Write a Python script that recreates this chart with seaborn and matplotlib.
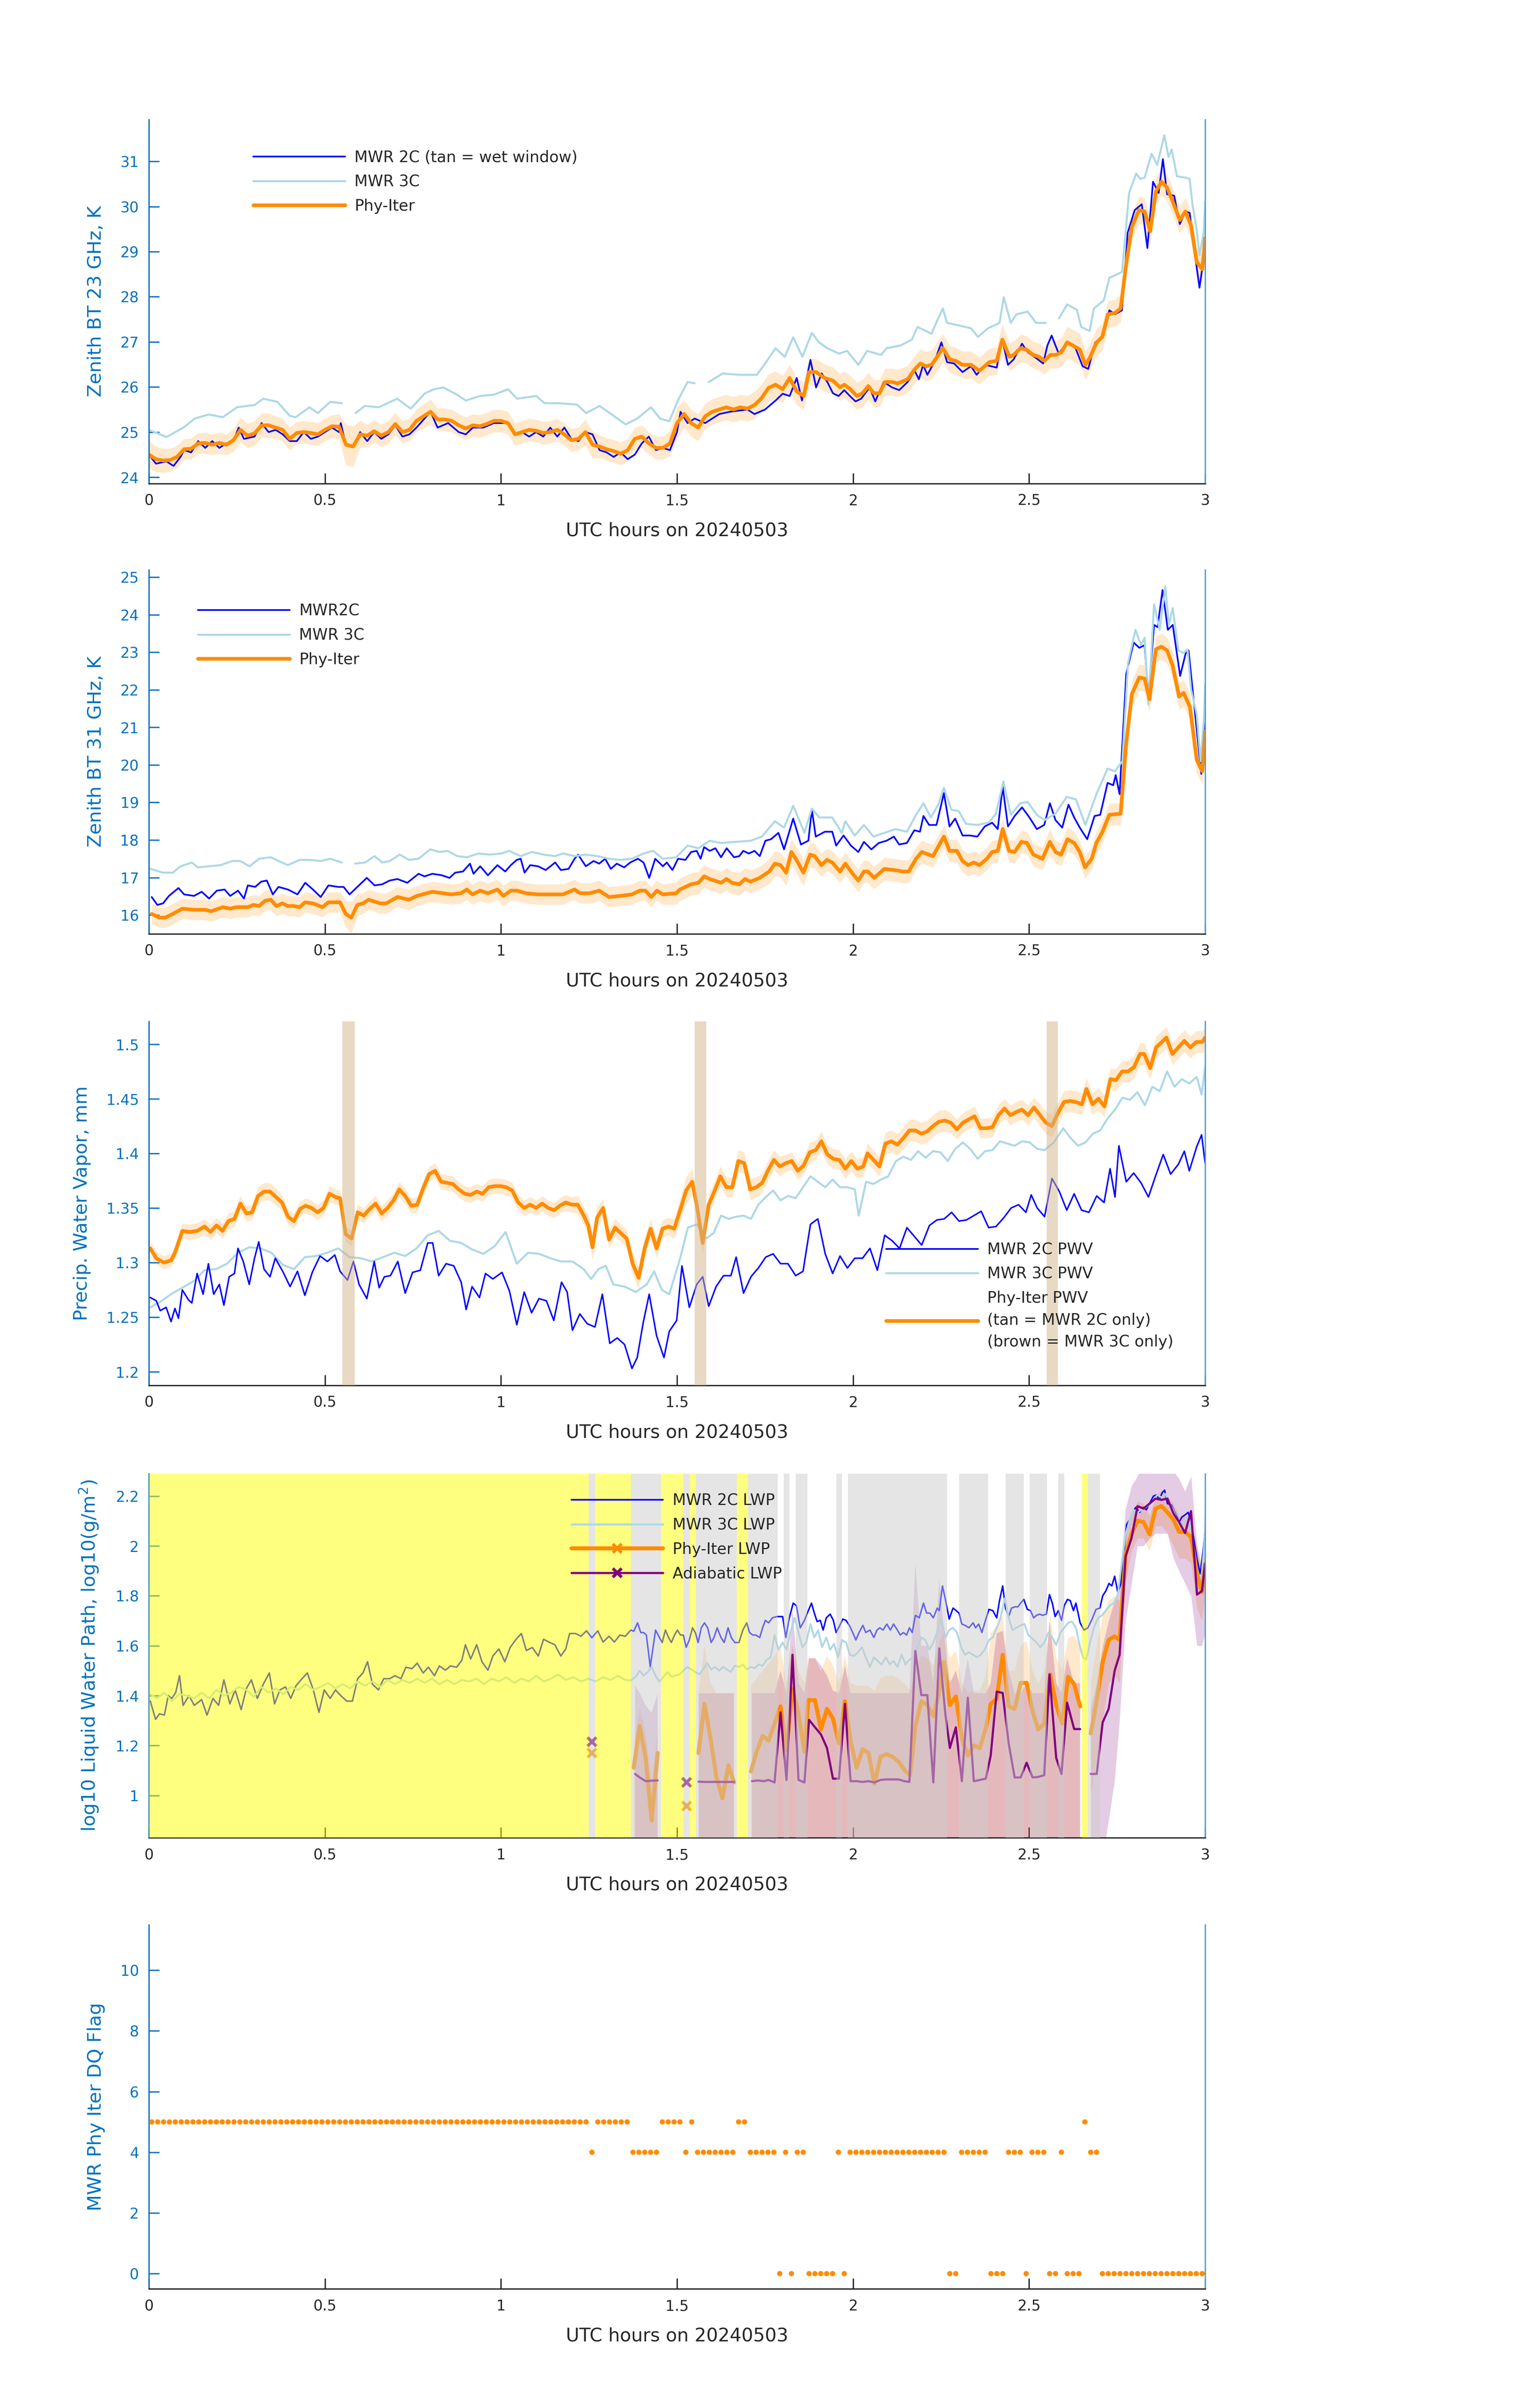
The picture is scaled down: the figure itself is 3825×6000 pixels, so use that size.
import numpy as np
import matplotlib
matplotlib.use("Agg")
import matplotlib.pyplot as plt
from matplotlib.lines import Line2D
from matplotlib.ticker import FuncFormatter
import seaborn as sns

nan = np.nan

C2 = "#0000FF"
C3 = "#ADD8E6"
CPHY = "#FF8C00"
CADI = "#800080"
AXBLUE = "#0072BD"
AXDARK = "#262626"

# ---------------- panel 1 : BT 23 GHz ----------------
bt23_2c = [
    (0, 24.5), (0.02, 24.3), (0.05, 24.35), (0.07, 24.25), (0.09, 24.45), (0.10, 24.6), (0.12, 24.55), (0.14, 24.8),
    (0.16, 24.65), (0.18, 24.8), (0.20, 24.65), (0.22, 24.75), (0.24, 24.8), (0.255, 25.1), (0.27, 24.85), (0.30, 24.9),
    (0.32, 25.2), (0.34, 25.0), (0.36, 25.05), (0.38, 24.95), (0.40, 24.8), (0.42, 24.8), (0.44, 25.0), (0.46, 24.85),
    (0.48, 24.9), (0.50, 25.0), (0.52, 25.1), (0.54, 25.0), (0.545, 25.2), (0.56, 24.7), (0.58, 24.7), (0.60, 25.0),
    (0.62, 24.8), (0.64, 25.0), (0.66, 24.85), (0.68, 24.95), (0.70, 25.15), (0.72, 24.9), (0.74, 24.95), (0.76, 25.1),
    (0.80, 25.45), (0.82, 25.1), (0.85, 25.2), (0.88, 25.0), (0.90, 24.95), (0.92, 25.1), (0.95, 25.1), (0.98, 25.2),
    (1.00, 25.2), (1.02, 25.2), (1.04, 24.95), (1.06, 25.0), (1.08, 24.9), (1.10, 25.0), (1.12, 24.9), (1.14, 25.1),
    (1.16, 24.9), (1.18, 25.1), (1.20, 24.85), (1.22, 24.8), (1.24, 25.0), (1.26, 24.95), (1.28, 24.6), (1.30, 24.55),
    (1.32, 24.45), (1.34, 24.55), (1.36, 24.4), (1.38, 24.5), (1.40, 24.75), (1.42, 24.9), (1.44, 24.6), (1.46, 24.65),
    (1.48, 24.6), (1.50, 25.0), (1.51, 25.45), (1.53, 25.2), (1.55, 25.3), (1.58, 25.2), (1.60, 25.3), (1.62, 25.4),
    (1.65, 25.45), (1.70, 25.5), (1.72, 25.4), (1.75, 25.5), (1.78, 25.7), (1.80, 25.85), (1.82, 25.8), (1.84, 26.2),
    (1.855, 25.7), (1.879, 26.6), (1.895, 25.99), (1.911, 26.3), (1.927, 26.11), (1.943, 25.86), (1.959, 25.8),
    (1.975, 25.93), (1.991, 25.8), (2.007, 25.68), (2.023, 25.74), (2.047, 25.99), (2.063, 25.68), (2.087, 26.11),
    (2.111, 25.99), (2.131, 25.93), (2.155, 26.11), (2.175, 26.36), (2.187, 26.17), (2.199, 26.49), (2.211, 26.27),
    (2.231, 26.55), (2.251, 26.99), (2.267, 26.55), (2.287, 26.52), (2.311, 26.33), (2.335, 26.46), (2.351, 26.27),
    (2.375, 26.49), (2.408, 26.43), (2.424, 27.05), (2.44, 26.49), (2.456, 26.61), (2.48, 26.96), (2.496, 26.77),
    (2.52, 26.64), (2.54, 26.52), (2.552, 26.92), (2.564, 27.14), (2.584, 26.74), (2.608, 26.99), (2.632, 26.86),
    (2.652, 26.46), (2.668, 26.4), (2.688, 26.99), (2.708, 27.11), (2.728, 27.7), (2.744, 27.61), (2.764, 27.7),
    (2.78, 29.42), (2.80, 29.92), (2.82, 30.05), (2.836, 29.08), (2.852, 30.55), (2.868, 30.3), (2.88, 31.05),
    (2.892, 30.27), (2.912, 30.24), (2.928, 29.61), (2.944, 29.89), (2.956, 29.86), (2.968, 29.11), (2.984, 28.2),
    (2.996, 28.86), (3.0, 29.3),
]
bt23_3c = [
    (0, 25.05), (0.05, 24.89), (0.10, 25.11), (0.13, 25.3), (0.17, 25.39), (0.21, 25.33), (0.25, 25.55), (0.30, 25.6),
    (0.325, 25.74), (0.365, 25.67), (0.40, 25.36), (0.417, 25.33), (0.456, 25.55), (0.48, 25.42), (0.515, 25.67),
    (0.548, 25.64), (0.565, nan), (0.587, 25.42), (0.613, 25.58), (0.653, 25.55), (0.705, 25.74), (0.744, 25.52),
    (0.784, 25.86), (0.81, 25.95), (0.836, 25.99), (0.875, 25.83), (0.90, 25.7), (0.94, 25.8), (0.98, 25.83),
    (1.02, 25.95), (1.046, 25.74), (1.10, 25.8), (1.124, 25.64), (1.164, 25.64), (1.216, 25.61), (1.242, 25.42),
    (1.28, 25.58), (1.32, 25.36), (1.354, 25.17), (1.387, 25.3), (1.426, 25.55), (1.452, 25.3), (1.478, 25.24),
    (1.505, 25.74), (1.53, 26.11), (1.55, 26.08), (1.57, nan), (1.59, 26.11), (1.63, 26.3), (1.675, 26.27),
    (1.727, 26.27), (1.753, 26.55), (1.78, 26.86), (1.806, 26.67), (1.83, 27.1), (1.856, 26.67), (1.883, 27.2),
    (1.903, 26.99), (1.927, 26.86), (1.96, 26.74), (1.983, 26.8), (2.015, 26.49), (2.04, 26.8), (2.08, 26.71),
    (2.095, 26.86), (2.135, 26.92), (2.167, 27.05), (2.183, 27.33), (2.207, 27.24), (2.223, 27.18), (2.24, 27.49),
    (2.255, 27.74), (2.267, 27.42), (2.303, 27.36), (2.335, 27.3), (2.355, 27.11), (2.383, 27.3), (2.416, 27.42),
    (2.428, 27.99), (2.448, 27.42), (2.464, 27.61), (2.496, 27.67), (2.52, 27.42), (2.548, 27.42), (2.565, nan),
    (2.585, 27.52), (2.608, 27.83), (2.636, 27.71), (2.648, 27.33), (2.672, 27.24), (2.684, 27.74), (2.712, 27.92),
    (2.728, 28.42), (2.748, 28.49), (2.764, 28.55), (2.784, 30.3), (2.804, 30.73), (2.816, 30.61), (2.828, 30.64),
    (2.848, 31.17), (2.864, 30.92), (2.884, 31.58), (2.896, 31.1), (2.905, 31.26), (2.92, 30.67), (2.944, 30.64),
    (2.956, 30.61), (2.964, 30.05), (2.976, 29.49), (2.984, 28.92), (2.996, 29.42), (3.0, 30.1),
]
# (time, value, half-width of uncertainty band)
bt23_phy = [
    (0, 24.5, 0.3), (0.02, 24.4, 0.28), (0.04, 24.37, 0.27), (0.06, 24.38, 0.25), (0.08, 24.45, 0.25),
    (0.1, 24.62, 0.23), (0.12, 24.63, 0.23), (0.14, 24.75, 0.23), (0.16, 24.76, 0.23), (0.18, 24.72, 0.23),
    (0.2, 24.76, 0.23), (0.22, 24.72, 0.23), (0.24, 24.82, 0.25), (0.26, 25.05, 0.27), (0.28, 24.92, 0.27),
    (0.3, 24.97, 0.27), (0.32, 25.15, 0.27), (0.34, 25.15, 0.27), (0.36, 25.1, 0.25), (0.38, 25.05, 0.25),
    (0.4, 24.85, 0.25), (0.42, 24.98, 0.25), (0.44, 25.0, 0.25), (0.46, 24.98, 0.25), (0.48, 24.95, 0.25),
    (0.5, 25.05, 0.25), (0.52, 25.13, 0.25), (0.54, 25.12, 0.28), (0.56, 24.72, 0.45), (0.58, 24.68, 0.45),
    (0.6, 24.95, 0.3), (0.62, 24.92, 0.25), (0.64, 25.02, 0.25), (0.66, 24.92, 0.25), (0.68, 25.0, 0.25),
    (0.7, 25.18, 0.25), (0.72, 25.0, 0.25), (0.74, 25.05, 0.25), (0.76, 25.25, 0.25), (0.78, 25.35, 0.27),
    (0.8, 25.45, 0.27), (0.82, 25.28, 0.25), (0.84, 25.28, 0.25), (0.86, 25.25, 0.25), (0.88, 25.15, 0.25),
    (0.9, 25.08, 0.25), (0.92, 25.15, 0.25), (0.94, 25.13, 0.25), (0.96, 25.18, 0.25), (0.98, 25.25, 0.25),
    (1.0, 25.25, 0.25), (1.02, 25.2, 0.25), (1.04, 24.95, 0.25), (1.06, 25.0, 0.25), (1.08, 25.05, 0.25),
    (1.1, 25.03, 0.25), (1.12, 24.98, 0.25), (1.14, 25.0, 0.25), (1.16, 25.05, 0.25), (1.18, 24.95, 0.25),
    (1.2, 24.82, 0.25), (1.22, 24.85, 0.25), (1.24, 25.0, 0.28), (1.26, 24.72, 0.3), (1.28, 24.68, 0.25),
    (1.3, 24.62, 0.25), (1.32, 24.58, 0.25), (1.34, 24.52, 0.25), (1.36, 24.6, 0.25), (1.38, 24.85, 0.25),
    (1.4, 24.9, 0.25), (1.42, 24.75, 0.25), (1.44, 24.65, 0.25), (1.46, 24.65, 0.25), (1.48, 24.75, 0.28),
    (1.5, 25.2, 0.35), (1.52, 25.4, 0.3), (1.54, 25.2, 0.3), (1.56, 25.1, 0.3), (1.58, 25.35, 0.28),
    (1.6, 25.45, 0.28), (1.62, 25.5, 0.28), (1.64, 25.55, 0.28), (1.66, 25.5, 0.28), (1.68, 25.55, 0.28),
    (1.7, 25.52, 0.28), (1.72, 25.6, 0.3), (1.74, 25.75, 0.3), (1.76, 25.98, 0.3), (1.78, 26.05, 0.3),
    (1.8, 25.95, 0.3), (1.82, 26.2, 0.3), (1.84, 25.9, 0.3), (1.86, 25.8, 0.3),
    (1.875, 26.33, 0.3), (1.895, 26.33, 0.3), (1.919, 26.2, 0.3), (1.943, 26.14, 0.3), (1.963, 25.99, 0.3),
    (1.975, 26.05, 0.3), (1.991, 25.96, 0.3), (2.011, 25.8, 0.3), (2.027, 25.86, 0.3), (2.043, 26.02, 0.3),
    (2.059, 25.86, 0.3), (2.075, 25.86, 0.3), (2.091, 26.11, 0.3), (2.111, 26.11, 0.3), (2.127, 26.08, 0.3),
    (2.155, 26.17, 0.3), (2.175, 26.39, 0.3), (2.191, 26.52, 0.32), (2.207, 26.46, 0.32), (2.223, 26.49, 0.32),
    (2.239, 26.67, 0.32), (2.255, 26.86, 0.32), (2.275, 26.61, 0.3), (2.291, 26.58, 0.3), (2.311, 26.49, 0.3),
    (2.335, 26.49, 0.3), (2.359, 26.36, 0.3), (2.387, 26.55, 0.3), (2.408, 26.58, 0.3), (2.424, 27.05, 0.35),
    (2.444, 26.67, 0.3), (2.456, 26.71, 0.3), (2.476, 26.86, 0.3), (2.492, 26.83, 0.3), (2.512, 26.71, 0.3),
    (2.528, 26.67, 0.3), (2.544, 26.58, 0.3), (2.56, 26.71, 0.3), (2.576, 26.71, 0.3), (2.592, 26.77, 0.32),
    (2.608, 26.99, 0.35), (2.624, 26.92, 0.35), (2.644, 26.83, 0.35), (2.66, 26.49, 0.32), (2.672, 26.64, 0.3),
    (2.692, 26.99, 0.3), (2.708, 27.11, 0.3), (2.724, 27.61, 0.3), (2.744, 27.64, 0.3), (2.76, 27.74, 0.3),
    (2.776, 28.74, 0.3), (2.792, 29.55, 0.3), (2.812, 29.92, 0.3), (2.828, 29.89, 0.3), (2.844, 29.45, 0.3),
    (2.86, 30.33, 0.3), (2.876, 30.55, 0.3), (2.892, 30.42, 0.3), (2.908, 30.11, 0.3), (2.928, 29.7, 0.3),
    (2.944, 29.89, 0.3), (2.96, 29.58, 0.3), (2.976, 28.77, 0.3), (2.992, 28.61, 0.3), (3.0, 29.3, 0.3),
]

# ---------------- panel 2 : BT 31 GHz ----------------
bt31_2c = [
    (0.008, 16.48), (0.024, 16.27), (0.04, 16.31), (0.057, 16.51), (0.084, 16.72), (0.1, 16.55), (0.128, 16.51),
    (0.15, 16.62), (0.171, 16.44), (0.193, 16.65), (0.215, 16.68), (0.231, 16.51), (0.253, 16.65), (0.27, 16.44),
    (0.281, 16.79), (0.302, 16.75), (0.319, 16.89), (0.335, 16.92), (0.352, 16.55), (0.368, 16.75), (0.395, 16.68),
    (0.422, 16.55), (0.444, 16.86), (0.466, 16.68), (0.488, 16.48), (0.51, 16.79), (0.537, 16.75), (0.553, 16.75),
    (0.57, 16.55), (0.592, 16.75), (0.619, 16.99), (0.641, 16.79), (0.663, 16.82), (0.684, 16.92), (0.706, 16.96),
    (0.734, 16.86), (0.766, 17.1), (0.783, 17.03), (0.805, 17.1), (0.832, 17.06), (0.854, 16.99), (0.87, 17.13),
    (0.892, 17.16), (0.912, 17.37), (0.922, 17.1), (0.941, 17.3), (0.963, 17.06), (0.99, 17.33), (1.012, 17.16),
    (1.028, 17.33), (1.045, 17.47), (1.056, 17.5), (1.067, 17.13), (1.083, 17.33), (1.105, 17.3), (1.127, 17.2),
    (1.154, 17.4), (1.17, 17.2), (1.192, 17.23), (1.209, 17.5), (1.219, 17.61), (1.241, 17.3), (1.263, 17.44),
    (1.279, 17.37), (1.296, 17.5), (1.312, 17.23), (1.329, 17.37), (1.35, 17.27), (1.367, 17.4), (1.389, 17.5),
    (1.405, 17.4), (1.421, 16.99), (1.438, 17.5), (1.46, 17.3), (1.471, 17.4), (1.487, 17.2), (1.503, 17.5),
    (1.524, 17.47), (1.54, 17.68), (1.556, 17.71), (1.567, 17.5), (1.577, 17.81), (1.593, 17.71), (1.609, 17.78),
    (1.625, 17.54), (1.641, 17.78), (1.662, 17.54), (1.677, 17.57), (1.688, 17.71), (1.704, 17.64), (1.72, 17.71),
    (1.735, 17.57), (1.751, 17.98), (1.767, 18.02), (1.788, 18.19), (1.804, 17.75), (1.83, 18.57), (1.852, 17.88),
    (1.873, 17.98), (1.883, 18.81), (1.894, 18.09), (1.92, 18.22), (1.941, 18.22), (1.952, 17.85), (1.973, 18.12),
    (1.994, 17.85), (2.015, 17.68), (2.031, 17.95), (2.052, 17.75), (2.073, 17.92), (2.095, 17.98), (2.116, 18.09),
    (2.131, 17.88), (2.153, 17.92), (2.174, 18.26), (2.19, 18.22), (2.2, 18.64), (2.216, 18.4), (2.237, 18.4),
    (2.258, 19.25), (2.274, 18.36), (2.29, 18.57), (2.311, 18.12), (2.332, 18.12), (2.353, 18.09), (2.374, 18.36),
    (2.395, 18.46), (2.411, 18.29), (2.425, 19.42), (2.44, 18.36), (2.459, 18.64), (2.48, 18.87), (2.501, 18.6),
    (2.522, 18.29), (2.543, 18.4), (2.559, 18.98), (2.575, 18.53), (2.594, 18.33), (2.612, 18.94), (2.628, 18.6),
    (2.644, 18.33), (2.665, 18.02), (2.686, 18.64), (2.702, 18.67), (2.723, 19.52), (2.739, 19.46), (2.746, 19.73),
    (2.757, 19.22), (2.776, 22.43), (2.797, 23.26), (2.813, 23.12), (2.828, 23.19), (2.839, 21.82), (2.855, 23.73),
    (2.865, 23.67), (2.879, 24.66), (2.894, 23.6), (2.908, 23.73), (2.929, 22.37), (2.945, 22.98), (2.953, 23.05),
    (2.971, 21.41), (2.989, 19.76), (2.999, 21.0), (3.0, 21.4),
]
bt31_3c = [
    (0.004, 17.23), (0.04, 17.13), (0.068, 17.13), (0.09, 17.3), (0.122, 17.4), (0.139, 17.27), (0.171, 17.3),
    (0.204, 17.33), (0.237, 17.44), (0.259, 17.44), (0.286, 17.3), (0.313, 17.5), (0.346, 17.54), (0.368, 17.44),
    (0.395, 17.33), (0.428, 17.47), (0.455, 17.47), (0.488, 17.44), (0.515, 17.5), (0.548, 17.4), (0.565, nan),
    (0.586, 17.37), (0.614, 17.4), (0.641, 17.57), (0.663, 17.4), (0.684, 17.44), (0.712, 17.61), (0.739, 17.47),
    (0.766, 17.5), (0.799, 17.75), (0.826, 17.68), (0.848, 17.71), (0.876, 17.57), (0.903, 17.54), (0.936, 17.64),
    (0.968, 17.61), (1.001, 17.64), (1.023, 17.71), (1.056, 17.57), (1.088, 17.68), (1.121, 17.61), (1.154, 17.57),
    (1.176, 17.64), (1.209, 17.57), (1.241, 17.61), (1.274, 17.57), (1.307, 17.5), (1.34, 17.47), (1.372, 17.5),
    (1.405, 17.64), (1.432, 17.71), (1.46, 17.5), (1.498, 17.54), (1.53, 17.85), (1.561, 17.78), (1.593, 17.98),
    (1.625, 17.92), (1.667, 17.95), (1.709, 17.98), (1.741, 18.09), (1.778, 18.5), (1.804, 18.33), (1.83, 18.91),
    (1.862, 18.19), (1.883, 18.84), (1.904, 18.6), (1.941, 18.6), (1.968, 18.19), (1.978, 18.5), (2.005, 18.12),
    (2.031, 18.4), (2.058, 18.09), (2.089, 18.19), (2.121, 18.29), (2.153, 18.22), (2.179, 18.67), (2.2, 18.98),
    (2.221, 18.6), (2.242, 18.94), (2.258, 19.39), (2.279, 18.81), (2.3, 18.77), (2.321, 18.43), (2.353, 18.4),
    (2.385, 18.46), (2.406, 18.7), (2.427, 19.56), (2.448, 18.67), (2.475, 18.98), (2.496, 19.01), (2.522, 18.67),
    (2.544, 18.53), (2.575, 18.7), (2.607, 19.15), (2.633, 19.08), (2.66, 18.4), (2.691, 19.22), (2.723, 19.9),
    (2.744, 19.83), (2.765, 20.1), (2.781, 22.71), (2.802, 23.6), (2.818, 23.19), (2.828, 23.39), (2.839, 21.61),
    (2.855, 24.28), (2.871, 23.6), (2.887, 24.76), (2.897, 23.73), (2.908, 24.18), (2.924, 23.05), (2.939, 22.98),
    (2.95, 23.08), (2.96, 22.02), (2.976, 21.34), (2.987, 20.1), (2.997, 21.27), (3.0, 22.16),
]
bt31_phy = [
    (0.008, 16.03, 0.27), (0.03, 15.93, 0.27), (0.046, 15.93, 0.27), (0.068, 16.03, 0.27), (0.095, 16.17, 0.27),
    (0.128, 16.14, 0.27), (0.16, 16.14, 0.27), (0.177, 16.1, 0.27), (0.21, 16.21, 0.27), (0.231, 16.17, 0.27),
    (0.248, 16.21, 0.27), (0.281, 16.21, 0.27), (0.297, 16.27, 0.27), (0.313, 16.24, 0.27), (0.33, 16.38, 0.27),
    (0.346, 16.41, 0.27), (0.362, 16.24, 0.27), (0.379, 16.31, 0.27), (0.395, 16.24, 0.27), (0.412, 16.24, 0.27),
    (0.428, 16.21, 0.27), (0.444, 16.34, 0.27), (0.466, 16.31, 0.27), (0.493, 16.21, 0.27), (0.51, 16.34, 0.27),
    (0.543, 16.34, 0.27), (0.559, 16.03, 0.35), (0.575, 15.93, 0.42), (0.592, 16.27, 0.3), (0.608, 16.31, 0.27),
    (0.624, 16.41, 0.27), (0.657, 16.31, 0.27), (0.674, 16.31, 0.27), (0.706, 16.48, 0.27), (0.739, 16.41, 0.27),
    (0.761, 16.51, 0.27), (0.805, 16.62, 0.27), (0.837, 16.58, 0.27), (0.859, 16.55, 0.27), (0.886, 16.58, 0.27),
    (0.903, 16.68, 0.27), (0.919, 16.55, 0.27), (0.941, 16.65, 0.27), (0.963, 16.58, 0.27), (0.99, 16.68, 0.27),
    (1.007, 16.51, 0.27), (1.028, 16.65, 0.27), (1.045, 16.65, 0.27), (1.072, 16.58, 0.27), (1.105, 16.55, 0.27),
    (1.143, 16.55, 0.27), (1.176, 16.55, 0.27), (1.209, 16.68, 0.27), (1.225, 16.58, 0.27), (1.252, 16.58, 0.27),
    (1.279, 16.65, 0.27), (1.307, 16.48, 0.27), (1.34, 16.51, 0.27), (1.372, 16.55, 0.27), (1.394, 16.65, 0.27),
    (1.41, 16.65, 0.27), (1.427, 16.48, 0.27), (1.443, 16.65, 0.27), (1.46, 16.55, 0.27), (1.498, 16.58, 0.3),
    (1.508, 16.68, 0.3), (1.54, 16.82, 0.3), (1.561, 16.86, 0.3), (1.577, 17.03, 0.3), (1.593, 16.96, 0.3),
    (1.625, 16.86, 0.3), (1.641, 16.96, 0.3), (1.656, 16.86, 0.3), (1.677, 16.82, 0.3), (1.693, 16.96, 0.3),
    (1.709, 16.89, 0.3), (1.735, 16.99, 0.3), (1.762, 17.16, 0.33), (1.778, 17.37, 0.33), (1.794, 17.33, 0.33),
    (1.81, 17.13, 0.35), (1.825, 17.68, 0.35), (1.841, 17.44, 0.35), (1.859, 17.13, 0.35), (1.878, 17.61, 0.33),
    (1.891, 17.57, 0.33), (1.91, 17.33, 0.3), (1.926, 17.47, 0.3), (1.941, 17.4, 0.3), (1.963, 17.16, 0.3),
    (1.978, 17.37, 0.3), (1.999, 17.1, 0.3), (2.015, 16.92, 0.3), (2.031, 17.16, 0.3), (2.042, 17.16, 0.3),
    (2.06, 16.99, 0.3), (2.089, 17.23, 0.3), (2.116, 17.2, 0.3), (2.142, 17.16, 0.3), (2.158, 17.16, 0.3),
    (2.179, 17.5, 0.3), (2.195, 17.68, 0.3), (2.227, 17.57, 0.3), (2.258, 18.09, 0.3), (2.274, 17.71, 0.3),
    (2.295, 17.71, 0.3), (2.311, 17.44, 0.3), (2.327, 17.33, 0.3), (2.343, 17.4, 0.3), (2.359, 17.33, 0.3),
    (2.38, 17.5, 0.3), (2.395, 17.68, 0.3), (2.411, 17.71, 0.3), (2.425, 18.29, 0.3), (2.443, 17.71, 0.3),
    (2.459, 17.68, 0.3), (2.478, 17.95, 0.3), (2.494, 17.92, 0.3), (2.512, 17.61, 0.3), (2.538, 17.5, 0.3),
    (2.559, 17.95, 0.33), (2.575, 17.68, 0.3), (2.591, 17.61, 0.3), (2.609, 18.02, 0.33), (2.628, 17.92, 0.3),
    (2.644, 17.68, 0.3), (2.659, 17.27, 0.3), (2.678, 17.5, 0.3), (2.691, 17.92, 0.3), (2.707, 18.19, 0.3),
    (2.728, 18.67, 0.3), (2.76, 18.7, 0.3), (2.776, 20.59, 0.35), (2.792, 21.89, 0.35), (2.813, 22.33, 0.35),
    (2.828, 22.3, 0.35), (2.842, 21.75, 0.35), (2.86, 23.08, 0.35), (2.876, 23.15, 0.35), (2.892, 23.05, 0.35),
    (2.908, 22.64, 0.35), (2.926, 21.82, 0.35), (2.939, 21.92, 0.35), (2.957, 21.54, 0.35), (2.976, 20.14, 0.35),
    (2.992, 19.83, 0.35), (3.0, 20.9, 0.35),
]

# ---------------- panel 3 : PWV ----------------
pwv_2c = [
    (0.004, 1.268), (0.021, 1.265), (0.032, 1.256), (0.049, 1.259), (0.063, 1.246), (0.074, 1.258), (0.084, 1.249),
    (0.095, 1.275), (0.112, 1.266), (0.122, 1.263), (0.137, 1.29), (0.154, 1.271), (0.169, 1.299), (0.184, 1.271),
    (0.2, 1.28), (0.213, 1.261), (0.228, 1.287), (0.243, 1.29), (0.253, 1.313), (0.268, 1.301), (0.285, 1.28),
    (0.3, 1.304), (0.312, 1.319), (0.327, 1.294), (0.344, 1.287), (0.359, 1.304), (0.38, 1.292), (0.401, 1.278),
    (0.422, 1.292), (0.443, 1.27), (0.464, 1.291), (0.486, 1.306), (0.507, 1.301), (0.528, 1.307), (0.543, 1.292),
    (0.564, 1.284), (0.581, 1.301), (0.597, 1.28), (0.619, 1.267), (0.64, 1.301), (0.654, 1.277), (0.669, 1.287),
    (0.686, 1.288), (0.707, 1.301), (0.728, 1.272), (0.749, 1.291), (0.771, 1.293), (0.792, 1.318), (0.806, 1.318),
    (0.823, 1.288), (0.844, 1.299), (0.866, 1.297), (0.887, 1.282), (0.901, 1.257), (0.918, 1.278), (0.939, 1.268),
    (0.956, 1.29), (0.977, 1.285), (1.003, 1.291), (1.024, 1.274), (1.045, 1.243), (1.066, 1.273), (1.087, 1.254),
    (1.108, 1.267), (1.129, 1.265), (1.15, 1.247), (1.172, 1.282), (1.188, 1.273), (1.203, 1.238), (1.224, 1.253),
    (1.245, 1.244), (1.267, 1.241), (1.288, 1.271), (1.309, 1.226), (1.33, 1.231), (1.351, 1.225), (1.372, 1.203),
    (1.387, 1.213), (1.404, 1.245), (1.421, 1.271), (1.442, 1.233), (1.463, 1.213), (1.478, 1.237), (1.499, 1.247),
    (1.514, 1.297), (1.535, 1.259), (1.556, 1.28), (1.573, 1.287), (1.59, 1.26), (1.611, 1.278), (1.632, 1.288),
    (1.653, 1.288), (1.668, 1.305), (1.689, 1.272), (1.71, 1.287), (1.731, 1.295), (1.752, 1.305), (1.773, 1.308),
    (1.794, 1.299), (1.815, 1.299), (1.837, 1.288), (1.858, 1.292), (1.879, 1.335), (1.9, 1.34), (1.921, 1.308),
    (1.942, 1.29), (1.963, 1.306), (1.984, 1.295), (2.005, 1.304), (2.027, 1.304), (2.048, 1.313), (2.069, 1.293),
    (2.09, 1.325), (2.111, 1.32), (2.132, 1.313), (2.153, 1.332), (2.174, 1.324), (2.195, 1.316), (2.217, 1.334),
    (2.238, 1.339), (2.259, 1.34), (2.28, 1.346), (2.301, 1.338), (2.322, 1.339), (2.343, 1.343), (2.364, 1.347),
    (2.385, 1.332), (2.406, 1.333), (2.428, 1.341), (2.449, 1.35), (2.47, 1.353), (2.491, 1.346), (2.506, 1.362),
    (2.523, 1.35), (2.544, 1.342), (2.565, 1.377), (2.586, 1.365), (2.607, 1.348), (2.628, 1.363), (2.649, 1.348),
    (2.67, 1.346), (2.692, 1.361), (2.713, 1.355), (2.73, 1.386), (2.744, 1.36), (2.755, 1.407), (2.776, 1.374),
    (2.797, 1.382), (2.818, 1.373), (2.839, 1.36), (2.86, 1.38), (2.881, 1.399), (2.902, 1.381), (2.924, 1.39),
    (2.941, 1.402), (2.955, 1.384), (2.976, 1.406), (2.99, 1.417), (3.0, 1.391),
]
pwv_3c = [
    (0.004, 1.259), (0.032, 1.264), (0.063, 1.271), (0.095, 1.277), (0.127, 1.283), (0.158, 1.293), (0.19, 1.294),
    (0.222, 1.299), (0.253, 1.309), (0.285, 1.314), (0.317, 1.313), (0.348, 1.309), (0.38, 1.298), (0.412, 1.294),
    (0.443, 1.305), (0.475, 1.306), (0.507, 1.309), (0.538, 1.313), (0.57, 1.305), (0.602, 1.304), (0.633, 1.301),
    (0.665, 1.305), (0.697, 1.309), (0.728, 1.306), (0.76, 1.313), (0.792, 1.325), (0.823, 1.329), (0.855, 1.32),
    (0.887, 1.318), (0.918, 1.312), (0.95, 1.308), (0.982, 1.315), (1.013, 1.328), (1.045, 1.299), (1.077, 1.309),
    (1.108, 1.308), (1.14, 1.304), (1.172, 1.301), (1.203, 1.301), (1.235, 1.294), (1.256, 1.285), (1.277, 1.294),
    (1.298, 1.297), (1.319, 1.28), (1.351, 1.278), (1.383, 1.273), (1.414, 1.28), (1.435, 1.292), (1.457, 1.275),
    (1.478, 1.271), (1.509, 1.304), (1.531, 1.332), (1.556, 1.335), (1.583, 1.322), (1.604, 1.327), (1.625, 1.343),
    (1.647, 1.34), (1.668, 1.342), (1.689, 1.343), (1.71, 1.34), (1.731, 1.353), (1.752, 1.36), (1.773, 1.366),
    (1.794, 1.357), (1.815, 1.361), (1.837, 1.359), (1.858, 1.369), (1.879, 1.379), (1.9, 1.374), (1.921, 1.369),
    (1.942, 1.376), (1.963, 1.369), (1.984, 1.369), (2.005, 1.367), (2.016, 1.343), (2.037, 1.374), (2.058, 1.372),
    (2.079, 1.376), (2.1, 1.379), (2.122, 1.393), (2.143, 1.397), (2.164, 1.394), (2.185, 1.402), (2.206, 1.396),
    (2.227, 1.402), (2.248, 1.401), (2.269, 1.393), (2.29, 1.404), (2.312, 1.41), (2.333, 1.404), (2.354, 1.395),
    (2.375, 1.402), (2.396, 1.403), (2.417, 1.411), (2.438, 1.409), (2.459, 1.407), (2.48, 1.411), (2.502, 1.41),
    (2.523, 1.404), (2.544, 1.403), (2.57, 1.41), (2.597, 1.423), (2.618, 1.414), (2.639, 1.407), (2.66, 1.41),
    (2.681, 1.418), (2.702, 1.421), (2.723, 1.432), (2.744, 1.44), (2.765, 1.451), (2.786, 1.449), (2.808, 1.456),
    (2.829, 1.444), (2.85, 1.461), (2.871, 1.457), (2.892, 1.475), (2.913, 1.461), (2.934, 1.468), (2.955, 1.464),
    (2.976, 1.47), (2.99, 1.454), (3.0, 1.479),
]
pwv_phy = [
    (0.004, 1.313, 0.006), (0.021, 1.304, 0.006), (0.042, 1.3, 0.006), (0.063, 1.302, 0.006), (0.074, 1.309, 0.006),
    (0.095, 1.329, 0.007), (0.116, 1.328, 0.007), (0.137, 1.329, 0.007), (0.158, 1.333, 0.007), (0.175, 1.328, 0.007),
    (0.192, 1.334, 0.007), (0.209, 1.329, 0.007), (0.226, 1.338, 0.007), (0.243, 1.34, 0.007), (0.26, 1.354, 0.007),
    (0.277, 1.345, 0.007), (0.293, 1.346, 0.007), (0.31, 1.361, 0.008), (0.327, 1.365, 0.008), (0.344, 1.365, 0.008),
    (0.361, 1.36, 0.008), (0.378, 1.355, 0.007), (0.395, 1.342, 0.007), (0.412, 1.338, 0.007), (0.429, 1.349, 0.007),
    (0.445, 1.352, 0.007), (0.462, 1.35, 0.007), (0.479, 1.346, 0.007), (0.496, 1.35, 0.007), (0.513, 1.363, 0.007),
    (0.53, 1.36, 0.007), (0.543, 1.359, 0.007), (0.559, 1.326, 0.007), (0.576, 1.322, 0.007), (0.593, 1.346, 0.007),
    (0.61, 1.343, 0.007), (0.627, 1.349, 0.007), (0.644, 1.354, 0.007), (0.661, 1.345, 0.007), (0.678, 1.35, 0.007),
    (0.695, 1.357, 0.007), (0.711, 1.367, 0.007), (0.728, 1.361, 0.007), (0.745, 1.352, 0.007), (0.762, 1.353, 0.007),
    (0.779, 1.368, 0.007), (0.796, 1.381, 0.007), (0.813, 1.384, 0.007), (0.83, 1.374, 0.007), (0.847, 1.373, 0.007),
    (0.863, 1.372, 0.007), (0.88, 1.367, 0.007), (0.897, 1.363, 0.007), (0.914, 1.362, 0.007), (0.931, 1.365, 0.007),
    (0.948, 1.363, 0.007), (0.965, 1.369, 0.007), (0.982, 1.37, 0.007), (0.999, 1.37, 0.007), (1.015, 1.369, 0.007),
    (1.032, 1.366, 0.007), (1.049, 1.355, 0.007), (1.066, 1.35, 0.007), (1.083, 1.353, 0.007), (1.1, 1.35, 0.007),
    (1.117, 1.354, 0.007), (1.134, 1.35, 0.007), (1.151, 1.348, 0.007), (1.167, 1.352, 0.007), (1.184, 1.355, 0.007),
    (1.201, 1.353, 0.007), (1.218, 1.353, 0.008), (1.235, 1.343, 0.008), (1.248, 1.334, 0.01), (1.26, 1.314, 0.012),
    (1.273, 1.341, 0.01), (1.29, 1.35, 0.008), (1.307, 1.321, 0.008), (1.324, 1.332, 0.008), (1.34, 1.327, 0.008),
    (1.357, 1.322, 0.008), (1.374, 1.299, 0.01), (1.391, 1.286, 0.01), (1.408, 1.313, 0.01), (1.425, 1.331, 0.009),
    (1.442, 1.313, 0.009), (1.459, 1.331, 0.008), (1.476, 1.333, 0.008), (1.492, 1.331, 0.009), (1.509, 1.348, 0.011),
    (1.526, 1.366, 0.012), (1.543, 1.374, 0.012), (1.556, 1.353, 0.011), (1.573, 1.318, 0.01), (1.59, 1.353, 0.009),
    (1.606, 1.365, 0.009), (1.623, 1.379, 0.009), (1.64, 1.369, 0.009), (1.657, 1.369, 0.009), (1.674, 1.393, 0.01),
    (1.691, 1.391, 0.01), (1.708, 1.367, 0.01), (1.725, 1.369, 0.009), (1.742, 1.373, 0.009), (1.758, 1.384, 0.009),
    (1.775, 1.394, 0.009), (1.792, 1.388, 0.009), (1.809, 1.391, 0.008), (1.826, 1.393, 0.008), (1.843, 1.384, 0.008),
    (1.86, 1.389, 0.008), (1.877, 1.401, 0.009), (1.894, 1.403, 0.009), (1.91, 1.411, 0.009), (1.927, 1.399, 0.009),
    (1.944, 1.395, 0.009), (1.961, 1.394, 0.009), (1.978, 1.386, 0.009), (1.995, 1.393, 0.009), (2.012, 1.386, 0.009),
    (2.029, 1.388, 0.009), (2.041, 1.4, 0.009), (2.058, 1.394, 0.009), (2.075, 1.388, 0.009), (2.092, 1.409, 0.01),
    (2.109, 1.411, 0.01), (2.126, 1.408, 0.01), (2.143, 1.414, 0.01), (2.16, 1.421, 0.01), (2.177, 1.421, 0.01),
    (2.194, 1.418, 0.01), (2.21, 1.42, 0.01), (2.227, 1.425, 0.01), (2.244, 1.429, 0.01), (2.261, 1.43, 0.01),
    (2.278, 1.428, 0.009), (2.295, 1.422, 0.009), (2.312, 1.428, 0.009), (2.328, 1.431, 0.009), (2.345, 1.434, 0.009),
    (2.362, 1.423, 0.009), (2.379, 1.423, 0.009), (2.396, 1.424, 0.009), (2.413, 1.435, 0.009), (2.43, 1.441, 0.009),
    (2.447, 1.435, 0.009), (2.464, 1.438, 0.009), (2.48, 1.44, 0.009), (2.497, 1.435, 0.009), (2.514, 1.442, 0.009),
    (2.531, 1.435, 0.01), (2.548, 1.428, 0.01), (2.565, 1.425, 0.01), (2.582, 1.437, 0.01), (2.599, 1.447, 0.01),
    (2.616, 1.448, 0.01), (2.633, 1.447, 0.01), (2.65, 1.445, 0.01), (2.663, 1.459, 0.01), (2.68, 1.445, 0.01),
    (2.697, 1.45, 0.01), (2.714, 1.443, 0.01), (2.731, 1.468, 0.01), (2.747, 1.467, 0.01), (2.764, 1.475, 0.01),
    (2.781, 1.475, 0.01), (2.798, 1.479, 0.01), (2.815, 1.491, 0.01), (2.827, 1.491, 0.01), (2.844, 1.478, 0.01),
    (2.861, 1.497, 0.01), (2.877, 1.502, 0.01), (2.89, 1.506, 0.01), (2.907, 1.491, 0.01), (2.924, 1.497, 0.01),
    (2.941, 1.503, 0.01), (2.958, 1.497, 0.01), (2.975, 1.502, 0.01), (2.992, 1.502, 0.01), (3.0, 1.506, 0.01),
]
pwv_tan_spans = [(0.549, 0.585), (1.55, 1.583), (2.55, 2.582)]

# ---------------- panel 4 : LWP ----------------
lwp_2c = [
    (0.004, 1.378), (0.019, 1.305), (0.03, 1.327), (0.044, 1.322), (0.055, 1.4), (0.065, 1.389), (0.076, 1.412),
    (0.087, 1.48), (0.097, 1.361), (0.114, 1.4), (0.129, 1.361), (0.15, 1.384), (0.165, 1.322), (0.182, 1.389),
    (0.198, 1.361), (0.213, 1.463), (0.23, 1.367), (0.245, 1.423), (0.262, 1.344), (0.277, 1.429), (0.291, 1.463),
    (0.308, 1.389), (0.325, 1.446), (0.342, 1.491), (0.357, 1.367), (0.372, 1.423), (0.388, 1.435), (0.403, 1.389),
    (0.418, 1.44), (0.435, 1.468), (0.45, 1.491), (0.467, 1.423), (0.483, 1.333), (0.498, 1.423), (0.515, 1.389),
    (0.53, 1.423), (0.545, 1.4), (0.562, 1.378), (0.578, 1.378), (0.593, 1.468), (0.608, 1.491), (0.621, 1.536),
    (0.635, 1.446), (0.652, 1.423), (0.667, 1.468), (0.684, 1.468), (0.699, 1.48), (0.716, 1.468), (0.73, 1.514),
    (0.747, 1.508), (0.762, 1.53), (0.779, 1.491), (0.794, 1.514), (0.811, 1.48), (0.825, 1.519), (0.842, 1.502),
    (0.857, 1.519), (0.874, 1.514), (0.889, 1.542), (0.899, 1.604), (0.914, 1.547), (0.931, 1.604), (0.946, 1.536),
    (0.963, 1.502), (0.977, 1.559), (0.994, 1.587), (1.011, 1.536), (1.026, 1.593), (1.043, 1.626), (1.058, 1.649),
    (1.072, 1.581), (1.089, 1.593), (1.106, 1.559), (1.121, 1.626), (1.136, 1.615), (1.153, 1.604), (1.17, 1.559),
    (1.184, 1.587), (1.195, 1.649), (1.212, 1.649), (1.227, 1.638), (1.243, 1.66), (1.258, 1.632), (1.275, 1.66),
    (1.29, 1.615), (1.307, 1.638), (1.322, 1.615), (1.338, 1.643), (1.353, 1.638), (1.369, 1.663), (1.377, 1.658),
    (1.388, 1.692), (1.397, 1.653), (1.405, 1.653), (1.413, 1.643), (1.424, 1.515), (1.431, 1.584), (1.439, 1.663),
    (1.45, 1.633), (1.458, 1.613), (1.467, 1.663), (1.476, 1.633), (1.484, 1.613), (1.493, 1.643), (1.501, 1.663),
    (1.51, 1.643), (1.518, 1.643), (1.526, 1.594), (1.535, 1.623), (1.544, 1.672), (1.552, 1.653), (1.56, 1.613),
    (1.569, 1.672), (1.578, 1.692), (1.587, 1.672), (1.597, 1.613), (1.605, 1.633), (1.614, 1.672), (1.625, 1.633),
    (1.634, 1.613), (1.645, 1.672), (1.654, 1.633), (1.664, 1.613), (1.676, 1.613), (1.687, 1.663), (1.698, 1.692),
    (1.706, 1.653), (1.715, 1.643), (1.724, 1.643), (1.735, 1.633), (1.743, 1.672), (1.751, 1.702), (1.76, 1.692),
    (1.771, 1.712), (1.783, 1.717), (1.8, 1.717), (1.809, 1.633), (1.819, 1.712), (1.83, 1.771), (1.839, 1.761),
    (1.85, 1.672), (1.862, 1.702), (1.873, 1.741), (1.882, 1.771), (1.89, 1.731), (1.898, 1.697), (1.907, 1.702),
    (1.915, 1.663), (1.924, 1.712), (1.935, 1.727), (1.944, 1.702), (1.952, 1.653), (1.961, 1.678), (1.971, 1.707),
    (1.98, 1.702), (1.991, 1.678), (1.999, 1.653), (2.008, 1.623), (2.017, 1.653), (2.028, 1.682), (2.036, 1.653),
    (2.048, 1.663), (2.059, 1.633), (2.068, 1.663), (2.076, 1.672), (2.085, 1.663), (2.096, 1.687), (2.106, 1.663),
    (2.115, 1.687), (2.126, 1.663), (2.134, 1.643), (2.143, 1.653), (2.152, 1.643), (2.16, 1.672), (2.168, 1.653),
    (2.177, 1.722), (2.188, 1.712), (2.2, 1.771), (2.209, 1.731), (2.218, 1.731), (2.228, 1.712), (2.239, 1.751),
    (2.245, 1.741), (2.254, 1.84), (2.263, 1.781), (2.273, 1.707), (2.284, 1.751), (2.293, 1.741), (2.301, 1.731),
    (2.309, 1.687), (2.318, 1.682), (2.329, 1.672), (2.341, 1.692), (2.348, 1.672), (2.357, 1.687), (2.366, 1.653),
    (2.374, 1.692), (2.386, 1.746), (2.397, 1.741), (2.408, 1.712), (2.416, 1.781), (2.425, 1.84), (2.433, 1.751),
    (2.442, 1.717), (2.45, 1.751), (2.459, 1.756), (2.468, 1.756), (2.476, 1.771), (2.485, 1.786), (2.495, 1.746),
    (2.504, 1.741), (2.513, 1.712), (2.521, 1.722), (2.53, 1.727), (2.538, 1.722), (2.549, 1.727), (2.558, 1.805),
    (2.566, 1.771), (2.574, 1.717), (2.583, 1.741), (2.592, 1.702), (2.6, 1.761), (2.609, 1.786), (2.617, 1.781),
    (2.626, 1.741), (2.633, 1.771), (2.645, 1.692), (2.656, 1.663), (2.667, 1.672), (2.679, 1.707), (2.69, 1.746),
    (2.701, 1.751), (2.709, 1.8), (2.718, 1.82), (2.727, 1.85), (2.735, 1.84), (2.743, 1.879), (2.752, 1.815),
    (2.761, 1.85), (2.769, 1.968), (2.777, 2.086), (2.786, 2.106), (2.794, 2.135), (2.803, 2.155), (2.814, 2.135),
    (2.825, 2.155), (2.833, 2.145), (2.842, 2.17), (2.853, 2.2), (2.862, 2.205), (2.87, 2.185), (2.878, 2.214),
    (2.885, 2.224), (2.893, 2.17), (2.904, 2.165), (2.915, 2.131), (2.926, 2.096), (2.934, 2.116), (2.943, 2.125),
    (2.952, 2.135), (2.96, 2.096), (2.968, 2.027), (2.977, 1.948), (2.986, 1.889), (2.994, 1.978), (3.0, 2.05),
]
lwp_3c = [
    (0.004, 1.406), (0.023, 1.389), (0.044, 1.412), (0.065, 1.378), (0.087, 1.406), (0.108, 1.4), (0.129, 1.389),
    (0.15, 1.412), (0.171, 1.389), (0.192, 1.423), (0.213, 1.4), (0.234, 1.412), (0.255, 1.435), (0.277, 1.423),
    (0.298, 1.395), (0.319, 1.435), (0.34, 1.412), (0.361, 1.429), (0.382, 1.406), (0.403, 1.435), (0.424, 1.423),
    (0.445, 1.446), (0.467, 1.423), (0.488, 1.435), (0.509, 1.451), (0.53, 1.429), (0.551, 1.446), (0.572, 1.429),
    (0.593, 1.457), (0.614, 1.44), (0.635, 1.457), (0.657, 1.435), (0.678, 1.463), (0.699, 1.446), (0.72, 1.463),
    (0.741, 1.451), (0.762, 1.468), (0.783, 1.451), (0.804, 1.468), (0.825, 1.446), (0.847, 1.463), (0.868, 1.446),
    (0.889, 1.463), (0.91, 1.457), (0.931, 1.468), (0.952, 1.446), (0.973, 1.468), (0.994, 1.457), (1.015, 1.474),
    (1.037, 1.451), (1.058, 1.468), (1.079, 1.457), (1.1, 1.48), (1.121, 1.457), (1.142, 1.468), (1.163, 1.485),
    (1.184, 1.463), (1.205, 1.474), (1.227, 1.457), (1.248, 1.468), (1.269, 1.457), (1.29, 1.474), (1.311, 1.463),
    (1.332, 1.48), (1.353, 1.463), (1.369, 1.461), (1.383, 1.476), (1.394, 1.5), (1.405, 1.48), (1.417, 1.495),
    (1.428, 1.515), (1.439, 1.48), (1.45, 1.456), (1.462, 1.476), (1.473, 1.495), (1.484, 1.476), (1.495, 1.48),
    (1.507, 1.485), (1.518, 1.5), (1.529, 1.515), (1.541, 1.505), (1.552, 1.495), (1.563, 1.485), (1.574, 1.505),
    (1.586, 1.53), (1.597, 1.505), (1.608, 1.515), (1.619, 1.5), (1.631, 1.515), (1.642, 1.505), (1.653, 1.495),
    (1.664, 1.52), (1.676, 1.515), (1.687, 1.525), (1.698, 1.505), (1.709, 1.515), (1.721, 1.51), (1.732, 1.525),
    (1.743, 1.52), (1.755, 1.544), (1.766, 1.554), (1.777, 1.643), (1.788, 1.584), (1.8, 1.613), (1.811, 1.584),
    (1.822, 1.653), (1.834, 1.712), (1.845, 1.653), (1.856, 1.594), (1.867, 1.613), (1.879, 1.687), (1.89, 1.633),
    (1.901, 1.663), (1.912, 1.594), (1.924, 1.633), (1.935, 1.584), (1.946, 1.608), (1.957, 1.554), (1.969, 1.623),
    (1.98, 1.613), (1.991, 1.564), (2.003, 1.559), (2.014, 1.574), (2.025, 1.594), (2.036, 1.554), (2.048, 1.515),
    (2.059, 1.554), (2.07, 1.539), (2.081, 1.525), (2.093, 1.554), (2.104, 1.525), (2.115, 1.539), (2.126, 1.515),
    (2.138, 1.564), (2.149, 1.525), (2.16, 1.544), (2.171, 1.554), (2.183, 1.594), (2.194, 1.633), (2.205, 1.623),
    (2.217, 1.584), (2.228, 1.613), (2.239, 1.653), (2.25, 1.712), (2.262, 1.633), (2.273, 1.663), (2.284, 1.672),
    (2.295, 1.653), (2.307, 1.594), (2.318, 1.564), (2.329, 1.574), (2.341, 1.564), (2.352, 1.554), (2.363, 1.564),
    (2.374, 1.584), (2.386, 1.623), (2.397, 1.633), (2.408, 1.672), (2.419, 1.712), (2.431, 1.791), (2.442, 1.712),
    (2.453, 1.663), (2.464, 1.672), (2.476, 1.682), (2.487, 1.687), (2.498, 1.643), (2.51, 1.628), (2.521, 1.613),
    (2.532, 1.594), (2.543, 1.613), (2.555, 1.653), (2.566, 1.633), (2.577, 1.603), (2.589, 1.653), (2.6, 1.672),
    (2.611, 1.692), (2.622, 1.697), (2.633, 1.672), (2.645, 1.594), (2.653, 1.554), (2.662, 1.544), (2.673, 1.613),
    (2.684, 1.672), (2.696, 1.712), (2.707, 1.722), (2.718, 1.741), (2.729, 1.761), (2.741, 1.771), (2.752, 1.805),
    (2.763, 1.929), (2.774, 2.047), (2.786, 2.106), (2.797, 2.145), (2.808, 2.135), (2.82, 2.145), (2.831, 2.155),
    (2.842, 2.165), (2.853, 2.185), (2.864, 2.205), (2.876, 2.195), (2.887, 2.209), (2.898, 2.175), (2.909, 2.145),
    (2.921, 2.106), (2.932, 2.086), (2.943, 2.106), (2.954, 2.116), (2.966, 2.017), (2.977, 1.909), (2.988, 1.85),
    (3.0, 2.047),
]
# Phy-Iter LWP: (time, value, upper edge of band); lower edge is off the bottom of the axis
lwp_phy = [
    (1.377, 1.111, 1.2), (1.394, 1.278, 1.35), (1.411, 1.15, 1.25), (1.428, 0.899, 1.05), (1.445, 1.17, 1.25),
    (1.5, nan, nan),
    (1.561, 1.17, 1.41), (1.578, 1.367, 1.6), (1.595, 1.229, 1.45), (1.612, 1.072, 1.41), (1.629, 0.988, 1.41),
    (1.646, 1.121, 1.41), (1.662, 1.052, 1.41),
    (1.69, nan, nan),
    (1.71, 1.096, 1.44), (1.726, 1.175, 1.47), (1.743, 1.239, 1.5), (1.76, 1.219, 1.53), (1.777, 1.288, 1.56),
    (1.794, 1.357, 1.59), (1.811, 1.18, 1.45), (1.828, 1.426, 1.6), (1.845, 1.328, 1.5), (1.862, 1.175, 1.45),
    (1.873, 1.382, 1.55), (1.892, 1.382, 1.55), (1.909, 1.264, 1.5), (1.926, 1.347, 1.56), (1.943, 1.308, 1.52),
    (1.96, 1.209, 1.45), (1.977, 1.377, 1.56), (1.993, 1.219, 1.45), (2.01, 1.111, 1.44), (2.027, 1.185, 1.44),
    (2.044, 1.17, 1.44), (2.061, 1.047, 1.42), (2.078, 1.155, 1.47), (2.095, 1.165, 1.48), (2.112, 1.155, 1.48),
    (2.129, 1.136, 1.47), (2.146, 1.101, 1.45), (2.162, 1.081, 1.42), (2.177, 1.278, 1.5), (2.194, 1.377, 1.56),
    (2.211, 1.362, 1.55), (2.228, 1.318, 1.52), (2.242, 1.397, 1.6), (2.258, 1.535, 1.66), (2.275, 1.362, 1.55),
    (2.292, 1.397, 1.58), (2.309, 1.229, 1.45), (2.326, 1.16, 1.41), (2.343, 1.2, 1.42), (2.36, 1.19, 1.42),
    (2.377, 1.268, 1.48), (2.391, 1.367, 1.65), (2.408, 1.387, 1.68), (2.425, 1.564, 1.72), (2.442, 1.357, 1.5),
    (2.459, 1.347, 1.5), (2.476, 1.451, 1.6), (2.493, 1.451, 1.62), (2.51, 1.337, 1.5), (2.526, 1.264, 1.45),
    (2.543, 1.288, 1.5), (2.56, 1.485, 1.72), (2.577, 1.362, 1.55), (2.594, 1.288, 1.5), (2.611, 1.476, 1.63),
    (2.628, 1.446, 1.64), (2.645, 1.357, 1.6),
]
# after the last wet window the band is fully inside the axis: (time, value, lower, upper)
lwp_phy_end = [
    (2.675, 1.249, 1.0, 1.45), (2.692, 1.377, 1.15, 1.6), (2.709, 1.535, 1.3, 1.72), (2.726, 1.623, 1.45, 1.78),
    (2.743, 1.638, 1.48, 1.8), (2.757, 1.623, 1.45, 1.78), (2.774, 1.968, 1.85, 2.08), (2.791, 2.047, 1.98, 2.12),
    (2.808, 2.101, 2.03, 2.18), (2.825, 2.096, 2.03, 2.17), (2.842, 2.047, 1.98, 2.12), (2.859, 2.15, 2.08, 2.2),
    (2.876, 2.16, 2.08, 2.22), (2.893, 2.135, 2.05, 2.2), (2.91, 2.106, 2.0, 2.17), (2.926, 2.057, 1.95, 2.12),
    (2.943, 2.057, 1.95, 2.12), (2.96, 2.037, 1.93, 2.1), (2.977, 1.889, 1.75, 2.0), (2.991, 1.815, 1.7, 1.93),
    (3.0, 1.929, 1.8, 2.05),
]
lwp_adi = [
    (1.381, 1.086, 1.44), (1.394, 1.072, 1.41), (1.411, 1.057, 1.36), (1.428, 1.059, 1.33), (1.445, 1.06, 1.41),
    (1.5, nan, nan),
    (1.561, 1.055, 1.41), (1.578, 1.054, 1.41), (1.595, 1.054, 1.41), (1.612, 1.054, 1.41), (1.629, 1.054, 1.41),
    (1.646, 1.054, 1.41), (1.662, 1.054, 1.41),
    (1.69, nan, nan),
    (1.713, 1.057, 1.41), (1.73, 1.06, 1.41), (1.747, 1.057, 1.41), (1.76, 1.062, 1.41), (1.777, 1.052, 1.41),
    (1.794, 1.333, 1.5), (1.811, 1.062, 1.41), (1.828, 1.564, 1.75), (1.845, 1.062, 1.45), (1.862, 1.052, 1.41),
    (1.875, 1.303, 1.55), (1.892, 1.273, 1.55), (1.909, 1.244, 1.52), (1.926, 1.19, 1.48), (1.943, 1.067, 1.42),
    (1.96, 1.067, 1.41), (1.977, 1.367, 1.52), (1.993, 1.057, 1.41), (2.01, 1.057, 1.41), (2.027, 1.054, 1.41),
    (2.044, 1.057, 1.41), (2.061, 1.052, 1.41), (2.078, 1.062, 1.41), (2.095, 1.064, 1.41), (2.112, 1.064, 1.41),
    (2.129, 1.064, 1.41), (2.146, 1.057, 1.41), (2.16, 1.054, 1.41), (2.177, 1.579, 1.93), (2.194, 1.402, 1.6),
    (2.211, 1.402, 1.6), (2.228, 1.052, 1.45), (2.245, 1.589, 1.87), (2.262, 1.328, 1.6), (2.275, 1.19, 1.45),
    (2.292, 1.273, 1.5), (2.309, 1.057, 1.41), (2.326, 1.392, 1.55), (2.343, 1.057, 1.41), (2.36, 1.062, 1.41),
    (2.377, 1.067, 1.41), (2.391, 1.16, 1.45), (2.408, 1.416, 1.65), (2.425, 1.411, 1.66), (2.442, 1.209, 1.5),
    (2.459, 1.072, 1.41), (2.476, 1.072, 1.41), (2.493, 1.131, 1.45), (2.51, 1.072, 1.41), (2.526, 1.074, 1.41),
    (2.543, 1.081, 1.41), (2.558, 1.485, 1.7), (2.577, 1.15, 1.45), (2.592, 1.086, 1.41), (2.608, 1.372, 1.55),
    (2.628, 1.266, 1.45), (2.645, 1.266, 1.45),
]
lwp_adi_end = [
    (2.675, 1.086, 0.7, 1.35), (2.692, 1.086, 0.7, 1.45), (2.709, 1.293, 0.75, 1.6), (2.726, 1.347, 0.9, 1.7),
    (2.743, 1.5, 1.06, 1.78), (2.757, 1.564, 1.3, 1.85), (2.774, 1.958, 1.7, 2.15), (2.791, 2.032, 1.85, 2.24),
    (2.808, 2.16, 2.0, 2.28), (2.825, 2.15, 2.0, 2.35), (2.842, 2.17, 2.03, 2.35), (2.859, 2.19, 2.05, 2.35),
    (2.876, 2.185, 2.05, 2.35), (2.893, 2.19, 2.05, 2.35), (2.91, 2.131, 1.95, 2.3), (2.926, 2.096, 1.9, 2.27),
    (2.943, 2.052, 1.85, 2.22), (2.96, 2.14, 1.8, 2.28), (2.977, 1.805, 1.6, 2.0), (2.991, 1.82, 1.6, 1.9),
    (3.0, 1.929, 1.65, 2.2),
]
# single valid retrievals shown as crosses: (time, Phy-Iter, Adiabatic)
lwp_single = [(1.258, 1.17, 1.215), (1.527, 0.958, 1.052)]
lwp_yellow_spans = [(0, 1.249), (1.268, 1.369), (1.454, 1.518), (1.537, 1.553), (1.67, 1.702), (2.65, 2.667)]
lwp_grey_spans = [
    (1.249, 1.268), (1.369, 1.454), (1.518, 1.537), (1.553, 1.67), (1.702, 1.786), (1.803, 1.819),
    (1.837, 1.87), (1.952, 1.969), (1.986, 2.267), (2.301, 2.383), (2.434, 2.485), (2.502, 2.551),
    (2.583, 2.6), (2.667, 2.701),
]

# ---------------- panel 5 : DQ flag (one value per minute) ----------------
dq_flag = [
    5, 5, 5, 5, 5, 5, 5, 5, 5, 5, 5, 5, 5, 5, 5, 5, 5, 5, 5, 5, 5, 5, 5, 5, 5, 5, 5, 5, 5, 5,
    5, 5, 5, 5, 5, 5, 5, 5, 5, 5, 5, 5, 5, 5, 5, 5, 5, 5, 5, 5, 5, 5, 5, 5, 5, 5, 5, 5, 5, 5,
    5, 5, 5, 5, 5, 5, 5, 5, 5, 5, 5, 5, 5, 5, 5, 4, 5, 5, 5, 5, 5, 5, 4, 4, 4, 4, 4, 5, 5, 5,
    5, 4, 5, 4, 4, 4, 4, 4, 4, 4, 5, 5, 4, 4, 4, 4, 4, 0, 4, 0, 4, 4, 0, 0, 0, 0, 0, 4, 0, 4,
    4, 4, 4, 4, 4, 4, 4, 4, 4, 4, 4, 4, 4, 4, 4, 4, 0, 0, 4, 4, 4, 4, 4, 0, 0, 0, 4, 4, 4, 0,
    4, 4, 4, 0, 0, 4, 0, 0, 0, 5, 4, 4, 0, 0, 0, 0, 0, 0, 0, 0, 0, 0, 0, 0, 0, 0, 0, 0, 0, 0,
]
dq_time = (np.arange(len(dq_flag)) + 0.5) / 60.0


def cols(rows):
    return [np.array(c, dtype=float) for c in zip(*rows)]


xticks = [0, 0.5, 1, 1.5, 2, 2.5, 3]
gfmt = FuncFormatter(lambda v, p: f"{v:g}")


def style(ax, ylabel, ylim, yticks):
    ax.set_xlim(0, 3)
    ax.set_ylim(*ylim)
    ax.set_xticks(xticks)
    ax.set_yticks(yticks)
    ax.xaxis.set_major_formatter(gfmt)
    ax.yaxis.set_major_formatter(gfmt)
    ax.spines["top"].set_visible(False)
    for s in ["left", "right", "bottom"]:
        ax.spines[s].set_visible(True)
        ax.spines[s].set_linewidth(0.8)
    ax.spines["left"].set_color(AXBLUE)
    ax.spines["right"].set_color("#4A9FD8")
    ax.spines["bottom"].set_color(AXDARK)
    ax.tick_params(axis="y", left=True, right=False, direction="in", length=6.3, width=0.8,
                   color=AXBLUE, labelcolor=AXBLUE, labelsize=8.8, pad=6)
    ax.tick_params(axis="x", bottom=True, top=False, direction="in", length=6.3, width=0.8,
                   color=AXDARK, labelcolor=AXDARK, labelsize=8.8, pad=6)
    ax.set_ylabel(ylabel, color=AXBLUE, fontsize=11.3, labelpad=9)
    ax.set_xlabel("UTC hours on 20240503", color=AXDARK, fontsize=11, labelpad=8)
    ax.grid(False)
    ax.set_facecolor("white")


def legend(ax, handles, labels, x, y):
    leg = ax.legend(handles, labels, loc="upper left", bbox_to_anchor=(x, y), bbox_transform=ax.transAxes,
                    frameon=False, borderpad=0, borderaxespad=0, fontsize=9.3, handlelength=5.9,
                    handletextpad=0.6, labelspacing=0.58, numpoints=1)
    leg.set_zorder(10)
    return leg


sns.set_theme(style="white")
plt.rcParams["font.family"] = ["DejaVu Sans"]
plt.rcParams["mathtext.fontset"] = "dejavusans"

fig = plt.figure(figsize=(12.75, 20), dpi=300)
L, W, H = 0.097, 0.6881, 0.1512
ax1 = fig.add_axes([L, 0.7992, W, H])
ax2 = fig.add_axes([L, 0.6122, W, H])
ax3 = fig.add_axes([L, 0.4247, W, H])
ax4 = fig.add_axes([L, 0.2368, W, H])
ax5 = fig.add_axes([L, 0.0495, W, H])

# ---- panel 1
t, v, e = cols(bt23_phy)
ax1.fill_between(t, v - e, v + e, color=CPHY, alpha=0.2, lw=0, zorder=1)
t2, v2 = cols(bt23_2c)
sns.lineplot(x=t2, y=v2, ax=ax1, color=C2, lw=1.0, estimator=None, sort=False, zorder=2)
t3, v3 = cols(bt23_3c)
ax1.plot(t3, v3, color=C3, lw=1.2, zorder=2.1)
ax1.plot(t, v, color=CPHY, lw=2.2, zorder=2.2)
style(ax1, "Zenith BT 23 GHz, K", (23.86, 31.93), range(24, 32))
legend(ax1, [Line2D([], [], color=C2, lw=1.0), Line2D([], [], color=C3, lw=1.2), Line2D([], [], color=CPHY, lw=2.2)],
       ["MWR 2C (tan = wet window)", "MWR 3C", "Phy-Iter"], 0.0988, 0.916)

# ---- panel 2
t, v, e = cols(bt31_phy)
ax2.fill_between(t, v - e, v + e, color=CPHY, alpha=0.2, lw=0, zorder=1)
t2, v2 = cols(bt31_2c)
sns.lineplot(x=t2, y=v2, ax=ax2, color=C2, lw=1.0, estimator=None, sort=False, zorder=2)
t3, v3 = cols(bt31_3c)
ax2.plot(t3, v3, color=C3, lw=1.2, zorder=2.1)
ax2.plot(t, v, color=CPHY, lw=2.2, zorder=2.2)
style(ax2, "Zenith BT 31 GHz, K", (15.5, 25.2), range(16, 26))
legend(ax2, [Line2D([], [], color=C2, lw=1.0), Line2D([], [], color=C3, lw=1.2), Line2D([], [], color=CPHY, lw=2.2)],
       ["MWR2C", "MWR 3C", "Phy-Iter"], 0.0465, 0.907)

# ---- panel 3
t, v, e = cols(pwv_phy)
ax3.fill_between(t, v - e, v + e, color=CPHY, alpha=0.2, lw=0, zorder=1)
t3, v3 = cols(pwv_3c)
ax3.plot(t3, v3, color=C3, lw=1.2, zorder=2)
t2, v2 = cols(pwv_2c)
sns.lineplot(x=t2, y=v2, ax=ax3, color=C2, lw=0.9, estimator=None, sort=False, zorder=2.1)
ax3.plot(t, v, color=CPHY, lw=2.2, zorder=2.2)
for a, b in pwv_tan_spans:
    ax3.axvspan(a, b, color="#D2B48C", alpha=0.5, lw=0, zorder=3)
style(ax3, "Precip. Water Vapor, mm", (1.1876, 1.521), [1.2, 1.25, 1.3, 1.35, 1.4, 1.45, 1.5])
leg3 = legend(ax3, [Line2D([], [], color=C2, lw=1.0), Line2D([], [], color=C3, lw=1.2),
                    Line2D([], [], color=CPHY, lw=2.2)],
              ["MWR 2C PWV", "MWR 3C PWV", "Phy-Iter PWV\n(tan = MWR 2C only)\n(brown = MWR 3C only)"],
              0.698, 0.393)
for txt in leg3.get_texts():
    txt.set_linespacing(1.55)

# ---- panel 4
t, v, hi = cols(lwp_phy)
ax4.fill_between(t, 0.5, hi, color=CPHY, alpha=0.2, lw=0, zorder=1)
te, ve, loe, hie = cols(lwp_phy_end)
ax4.fill_between(te, loe, hie, color=CPHY, alpha=0.2, lw=0, zorder=1)
ta, va, hia = cols(lwp_adi)
ax4.fill_between(ta, 0.5, hia, color=CADI, alpha=0.2, lw=0, zorder=1.1)
tae, vae, loae, hiae = cols(lwp_adi_end)
ax4.fill_between(tae, loae, hiae, color=CADI, alpha=0.2, lw=0, zorder=1.1)
t2, v2 = cols(lwp_2c)
sns.lineplot(x=t2, y=v2, ax=ax4, color=C2, lw=0.9, estimator=None, sort=False, zorder=2)
t3, v3 = cols(lwp_3c)
ax4.plot(t3, v3, color=C3, lw=1.1, zorder=2.1)
ax4.plot(t, v, color=CPHY, lw=2.4, zorder=2.3)
ax4.plot(te, ve, color=CPHY, lw=2.4, zorder=2.3)
ax4.plot(ta, va, color=CADI, lw=1.3, zorder=2.4)
ax4.plot(tae, vae, color=CADI, lw=1.3, zorder=2.4)
ts, ps, as_ = cols(lwp_single)
ax4.plot(ts, ps, ls="none", marker="x", color=CPHY, ms=5.5, mew=1.8, zorder=2.3)
ax4.plot(ts, as_, ls="none", marker="x", color=CADI, ms=5.5, mew=1.8, zorder=2.4)
for a, b in lwp_yellow_spans:
    ax4.axvspan(a, b, color=(1, 1, 0), alpha=0.5, lw=0, zorder=3)
for a, b in lwp_grey_spans:
    ax4.axvspan(a, b, color=(0.8, 0.8, 0.8), alpha=0.5, lw=0, zorder=3)
style(ax4, "log10 Liquid Water Path, log10(g/m$^2$)", (0.83, 2.29), [1, 1.2, 1.4, 1.6, 1.8, 2, 2.2])
legend(ax4, [Line2D([], [], color=C2, lw=1.0), Line2D([], [], color=C3, lw=1.2),
             Line2D([], [], color=CPHY, lw=2.4, marker="x", ms=5.5, mew=1.8),
             Line2D([], [], color=CADI, lw=1.3, marker="x", ms=5.5, mew=1.8)],
       ["MWR 2C LWP", "MWR 3C LWP", "Phy-Iter LWP", "Adiabatic LWP"], 0.40, 0.946)

# ---- panel 5
sns.scatterplot(x=dq_time, y=np.array(dq_flag, dtype=float), ax=ax5, color=CPHY, s=10,
                edgecolor="none", legend=False, zorder=3)
style(ax5, "MWR Phy Iter DQ Flag", (-0.5, 11.5), [0, 2, 4, 6, 8, 10])

fig.savefig("out.png", dpi=300, facecolor="white")
